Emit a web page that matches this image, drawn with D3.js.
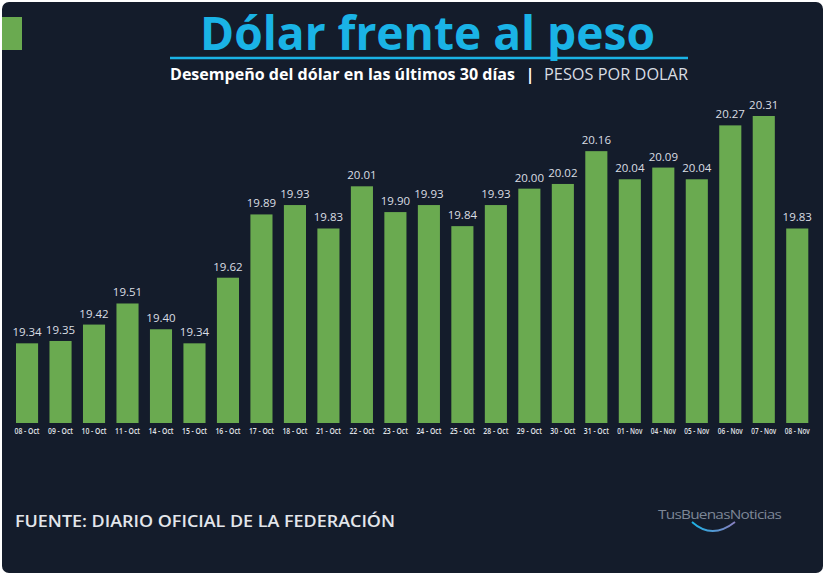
<!DOCTYPE html>
<html><head><meta charset="utf-8">
<script src="https://cdn.jsdelivr.net/npm/d3@7"></script>
<style>
html,body{margin:0;padding:0;background:#ffffff;}
svg{display:block;}
</style></head>
<body>
<svg id="chart" width="825" height="575"></svg>
<script>
const categories = ["08 - Oct","09 - Oct","10 - Oct","11 - Oct","14 - Oct","15 - Oct","16 - Oct","17 - Oct","18 - Oct","21 - Oct","22 - Oct","23 - Oct","24 - Oct","25 - Oct","28 - Oct","29 - Oct","30 - Oct","31 - Oct","01 - Nov","04 - Nov","05 - Nov","06 - Nov","07 - Nov","08 - Nov"];
const values = [19.34,19.35,19.42,19.51,19.40,19.34,19.62,19.89,19.93,19.83,20.01,19.90,19.93,19.84,19.93,20.00,20.02,20.16,20.04,20.09,20.04,20.27,20.31,19.83];
const yDomain = [19.0, 20.31];

const svg = d3.select("#chart");
const W = 825, H = 575;

// panel
svg.append("rect").attr("x",2).attr("y",2).attr("width",W-4).attr("height",H-4)
  .attr("rx",7).attr("fill","#141c2b");

// green square
svg.append("rect").attr("x",2).attr("y",17).attr("width",20).attr("height",33).attr("fill","#6aaa50");

// title
svg.append("text").attr("x",427.5).attr("y",50).attr("text-anchor","middle")
  .attr("font-family","Open Sans").attr("font-weight",700).attr("font-size",46)
  .attr("fill","#1ab3e6").attr("textLength",455).attr("lengthAdjust","spacingAndGlyphs")
  .text("Dólar frente al peso");
svg.append("line").attr("x1",170).attr("x2",688).attr("y1",58).attr("y2",58)
  .attr("stroke","#1ab3e6").attr("stroke-width",2.5);

// subtitle
svg.append("text").attr("x",170).attr("y",80)
  .attr("font-family","Open Sans").attr("font-weight",700).attr("font-size",15.5)
  .attr("fill","#ffffff").attr("textLength",345).attr("lengthAdjust","spacingAndGlyphs")
  .text("Desempeño del dólar en las últimos 30 días");
svg.append("text").attr("x",530).attr("y",80).attr("text-anchor","middle")
  .attr("font-family","Open Sans").attr("font-weight",700).attr("font-size",15.5)
  .attr("fill","#ffffff").text("|");
svg.append("text").attr("x",544).attr("y",80)
  .attr("font-family","Open Sans").attr("font-weight",400).attr("font-size",15.5)
  .attr("fill","#d9dde3").attr("textLength",144).attr("lengthAdjust","spacingAndGlyphs")
  .text("PESOS POR DOLAR");

// scales
const x = d3.scaleBand().domain(categories).range([10.3, 814]).paddingInner(0.34).paddingOuter(0.17);
const y = d3.scaleLinear().domain(yDomain).range([423, 116]);

const g = svg.append("g");
g.selectAll("rect.bar").data(values).join("rect").attr("class","bar")
  .attr("x",(d,i)=>x(categories[i])).attr("width",x.bandwidth())
  .attr("y",d=>y(d)).attr("height",d=>y(yDomain[0])-y(d))
  .attr("fill","#6aaa50");

g.selectAll("text.val").data(values).join("text").attr("class","val")
  .attr("x",(d,i)=>x(categories[i])+x.bandwidth()/2).attr("y",d=>y(d)-7)
  .attr("text-anchor","middle").attr("font-family","Open Sans").attr("font-size",11.5)
  .attr("fill","#dadee4").text(d=>d.toFixed(2));

// x axis
const xAxis = d3.axisBottom(x).tickSize(0).tickPadding(0);
const ax = svg.append("g").attr("transform","translate(0,428.5)").call(xAxis);
ax.select(".domain").remove();
ax.selectAll("text").attr("font-family","Open Sans").attr("font-weight",600)
  .attr("font-size",8).attr("fill","#e2e5ea").attr("dy","0.71em")
  .attr("textLength",25).attr("lengthAdjust","spacingAndGlyphs");

// footer
svg.append("text").attr("x",15).attr("y",527)
  .attr("font-family","Open Sans").attr("font-weight",600).attr("font-size",16.5)
  .attr("fill","#e3e6eb").attr("textLength",380).attr("lengthAdjust","spacingAndGlyphs")
  .text("FUENTE: DIARIO OFICIAL DE LA FEDERACIÓN");

// logo
svg.append("text").attr("x",658).attr("y",519)
  .attr("font-family","Open Sans").attr("font-size",12.5).attr("fill","#7d8696")
  .attr("letter-spacing",-0.6)
  .attr("textLength",123).attr("lengthAdjust","spacingAndGlyphs")
  .text("TusBuenasNoticias");
const defs = svg.append("defs");
const lg = defs.append("linearGradient").attr("id","arcg").attr("x1","0").attr("x2","1");
lg.append("stop").attr("offset","0").attr("stop-color","#1ab3e6");
lg.append("stop").attr("offset","1").attr("stop-color","#8a7fc0");
svg.append("path").attr("d","M692,522 Q712,540 735,522").attr("fill","none")
  .attr("stroke","url(#arcg)").attr("stroke-width",1.8);
</script>
</body></html>
